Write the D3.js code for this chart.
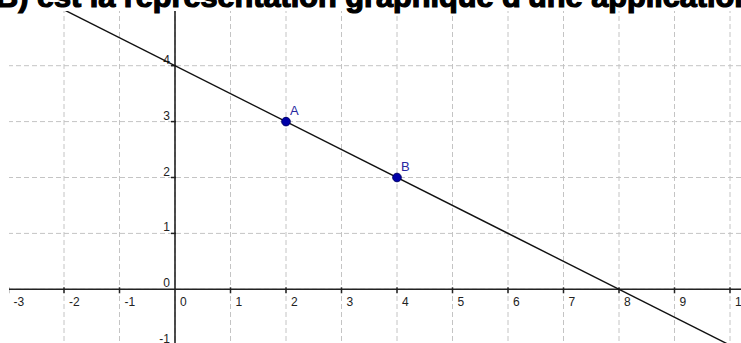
<!DOCTYPE html>
<html>
<head>
<meta charset="utf-8">
<script src="https://cdn.jsdelivr.net/npm/d3@7"></script>
<style>
  body { margin: 0; background: #fff; }
  svg { display: block; }
</style>
</head>
<body>
<script>
const WIDTH = 741;
const HEIGHT = 343;

const titre = "B) est la représentation graphique d'une application";
const xTicks = [-3, -2, -1, 0, 1, 2, 3, 4, 5, 6, 7, 8, 9, 10];
const yTicks = [-1, 0, 1, 2, 3, 4];
const noms = ["A", "B"];
const xPoints = [2, 4];
const yPoints = [3, 2];

const SVG = d3.select("body")
  .append("svg")
  .attr("width", WIDTH)
  .attr("height", HEIGHT);

const x = d3.scaleLinear().domain([-3, 10]).range([8.5, 730]);
const y = d3.scaleLinear().domain([-1, 4]).range([345.2, 65.7]);

SVG.append("defs").append("clipPath").attr("id", "zone")
  .append("rect").attr("x", 9).attr("y", 11).attr("width", WIDTH).attr("height", HEIGHT);

const plot = SVG.append("g").attr("clip-path", "url(#zone)");

// grille pointillée
plot.append("g")
  .selectAll("line")
  .data(xTicks)
  .join("line")
  .attr("x1", (d) => x(d)).attr("x2", (d) => x(d))
  .attr("y1", 0).attr("y2", HEIGHT)
  .attr("stroke", "#c4c4c4")
  .attr("stroke-dasharray", "5,3");

plot.append("g")
  .selectAll("line")
  .data(yTicks.concat([5]))
  .join("line")
  .attr("x1", 0).attr("x2", WIDTH)
  .attr("y1", (d) => y(d)).attr("y2", (d) => y(d))
  .attr("stroke", "#c4c4c4")
  .attr("stroke-dasharray", "5,3");

// axes
plot.append("line")
  .attr("x1", 0).attr("x2", WIDTH)
  .attr("y1", y(0)).attr("y2", y(0))
  .attr("stroke", "#222").attr("stroke-width", 1.6);
plot.append("line")
  .attr("x1", x(0)).attr("x2", x(0))
  .attr("y1", 0).attr("y2", HEIGHT)
  .attr("stroke", "#222").attr("stroke-width", 1.6);

// graduations
plot.append("g")
  .selectAll("line")
  .data(xTicks.filter((d) => d !== 0))
  .join("line")
  .attr("x1", (d) => x(d)).attr("x2", (d) => x(d))
  .attr("y1", y(0) - 2).attr("y2", y(0) + 4)
  .attr("stroke", "#222").attr("stroke-width", 1.5);
plot.append("g")
  .selectAll("line")
  .data(yTicks.filter((d) => d !== 0))
  .join("line")
  .attr("x1", x(0) - 4).attr("x2", x(0) + 1)
  .attr("y1", (d) => y(d)).attr("y2", (d) => y(d))
  .attr("stroke", "#222").attr("stroke-width", 1.5);

plot.append("g")
  .attr("font-family", "Liberation Sans, Arial, sans-serif")
  .attr("font-size", 12)
  .attr("fill", "#222")
  .selectAll("text")
  .data(xTicks)
  .join("text")
  .attr("x", (d) => x(d) + 5)
  .attr("y", y(0) + 17)
  .text((d) => d);

plot.append("g")
  .attr("font-family", "Liberation Sans, Arial, sans-serif")
  .attr("font-size", 12)
  .attr("fill", "#222")
  .attr("text-anchor", "end")
  .selectAll("text")
  .data(yTicks)
  .join("text")
  .attr("x", x(0) - 5)
  .attr("y", (d) => y(d) - 2)
  .text((d) => d);

// droite (AB)
const pente = (yPoints[1] - yPoints[0]) / (xPoints[1] - xPoints[0]);
const f = (t) => yPoints[0] + pente * (t - xPoints[0]);
plot.append("line")
  .attr("x1", x(-3)).attr("y1", y(f(-3)))
  .attr("x2", x(11)).attr("y2", y(f(11)))
  .attr("stroke", "#111").attr("stroke-width", 1.4);

const points = noms.map((n, i) => ({ nom: n, x: xPoints[i], y: yPoints[i] }));
plot.append("g")
  .selectAll("circle")
  .data(points)
  .join("circle")
  .attr("cx", (d) => x(d.x)).attr("cy", (d) => y(d.y))
  .attr("r", 4.3)
  .attr("fill", "#0000a8")
  .attr("stroke", "#00006a");
plot.append("g")
  .attr("font-family", "Liberation Sans, Arial, sans-serif")
  .attr("font-size", 13)
  .attr("fill", "#2828a0")
  .selectAll("text")
  .data(points)
  .join("text")
  .attr("x", (d) => x(d.x) + 4)
  .attr("y", (d) => y(d.y) - 7)
  .text((d) => d.nom);

// titre coupé en haut
SVG.append("text")
  .attr("x", -4)
  .attr("y", 7)
  .attr("font-family", "Liberation Sans, Arial, sans-serif")
  .attr("font-weight", "bold")
  .attr("font-size", 29)
  .attr("textLength", 757)
  .attr("lengthAdjust", "spacingAndGlyphs")
  .attr("fill", "#000")
  .attr("stroke", "#000")
  .attr("stroke-width", 1.2)
  .text(titre);
</script>
</body>
</html>
